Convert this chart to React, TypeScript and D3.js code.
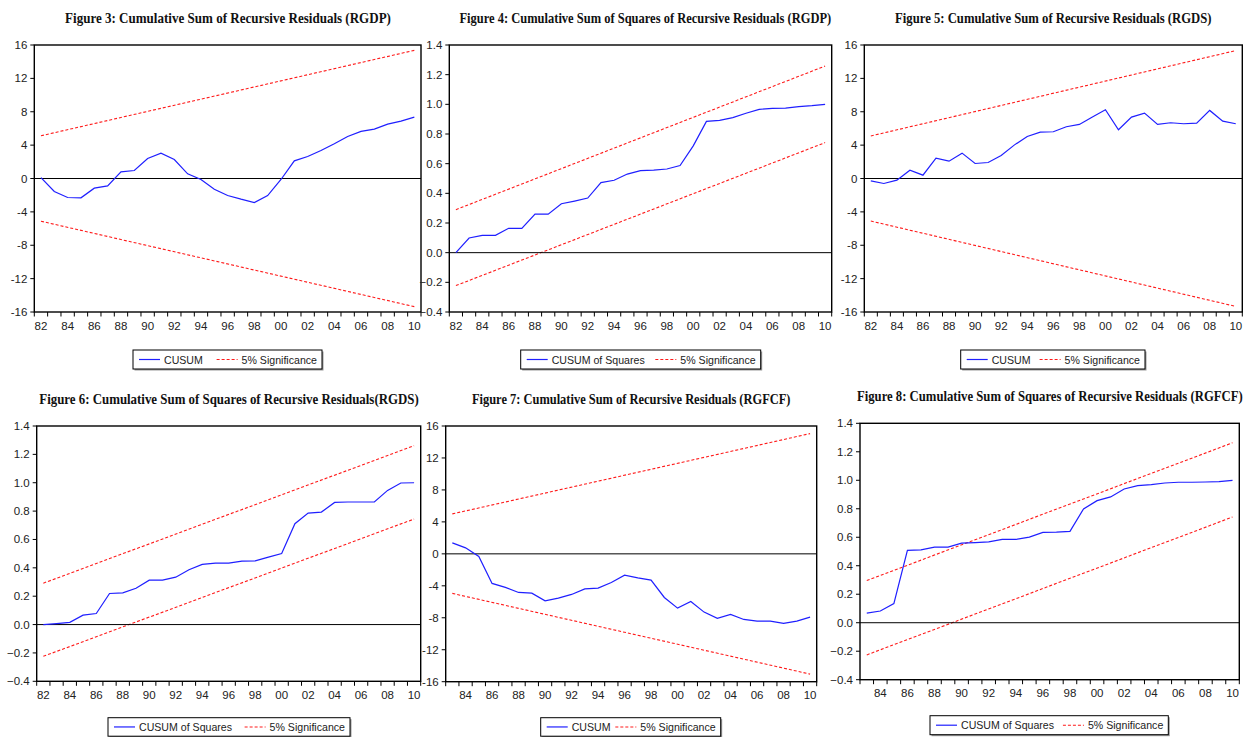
import React from 'react';
import * as d3 from 'd3';

// observation years (annual data)
const years82 = [1982, 1983, 1984, 1985, 1986, 1987, 1988, 1989, 1990, 1991, 1992, 1993, 1994, 1995,
  1996, 1997, 1998, 1999, 2000, 2001, 2002, 2003, 2004, 2005, 2006, 2007, 2008, 2009, 2010];
const years83 = years82.slice(1);

// CUSUM / CUSUM of squares series
const cusumRGDP = [0.1, -1.56, -2.28, -2.32, -1.16, -0.88, 0.8, 0.96, 2.4, 3.04, 2.28, 0.56, -0.12, -1.28,
  -2.04, -2.48, -2.88, -2.04, -0.12, 2.12, 2.64, 3.36, 4.16, 5.04, 5.64, 5.92, 6.52, 6.88, 7.36];
const cusumSqRGDP = [0.0, 0.099, 0.117, 0.117, 0.164, 0.164, 0.26, 0.26, 0.33, 0.348, 0.368, 0.472, 0.488, 0.53,
  0.553, 0.557, 0.564, 0.587, 0.72, 0.885, 0.892, 0.91, 0.94, 0.966, 0.973, 0.975, 0.984, 0.991, 1.0];
const cusumRGDS = [-0.28, -0.6, -0.2, 1.0, 0.4, 2.44, 2.08, 3.04, 1.8, 1.92, 2.76, 4.0, 5.04, 5.56,
  5.6, 6.2, 6.48, 7.36, 8.24, 5.84, 7.36, 7.84, 6.48, 6.68, 6.56, 6.64, 8.16, 6.88, 6.56];
const cusumSqRGDS = [0.0, 0.007, 0.016, 0.066, 0.078, 0.219, 0.224, 0.256, 0.313, 0.313, 0.334, 0.386, 0.424, 0.433,
  0.433, 0.447, 0.449, 0.475, 0.501, 0.711, 0.786, 0.793, 0.861, 0.864, 0.864, 0.864, 0.946, 0.998, 1.0];
const cusumRGFCF = [1.375, 0.75, -0.33, -3.7, -4.2, -4.83, -4.92, -5.88, -5.54, -5.08, -4.38, -4.29, -3.58,
  -2.67, -3.0, -3.29, -5.46, -6.79, -5.96, -7.29, -8.08, -7.58, -8.21, -8.42, -8.42, -8.71, -8.42, -7.92];
const cusumSqRGFCF = [0.068, 0.082, 0.134, 0.508, 0.512, 0.531, 0.531, 0.559, 0.563, 0.568, 0.585, 0.585, 0.601,
  0.634, 0.636, 0.641, 0.798, 0.857, 0.883, 0.939, 0.962, 0.969, 0.981, 0.986, 0.986, 0.988, 0.991, 1.0];

// 5% significance bounds: [value at first year, value at last year]
const upperRGDP = [5.12, 15.36];
const lowerRGDP = [-5.12, -15.36];
const upperSqRGDP = [0.29, 1.258];
const lowerSqRGDP = [-0.222, 0.742];
const upperRGDS = [5.1, 15.33];
const lowerRGDS = [-5.1, -15.33];
const upperSqRGDS = [0.292, 1.261];
const lowerSqRGDS = [-0.224, 0.744];
const upperRGFCF = [5.0, 15.05];
const lowerRGFCF = [-4.95, -15.05];
const upperSqRGFCF = [0.296, 1.263];
const lowerSqRGFCF = [-0.226, 0.742];

// axis ticks
const ticksCusum = [-16, -12, -8, -4, 0, 4, 8, 12, 16];
const ticksSq = [-0.4, -0.2, 0.0, 0.2, 0.4, 0.6, 0.8, 1.0, 1.2, 1.4];

const fmtCusum = (v: number) => String(v);
const fmtSq = d3.format('.1f');

const panels = [
  {
    title: 'Figure 3: Cumulative Sum of Recursive Residuals (RGDP)', tx: 228, ty: 22.7, tw: 326,
    frame: { l: 34.3, t: 45, r: 421, b: 312 }, years: years82, values: cusumRGDP,
    upper: upperRGDP, lower: lowerRGDP, ticks: ticksCusum, fmt: fmtCusum,
    legendLabel: 'CUSUM', legend: { x: 133, y: 350, w: 189, h: 19 },
  },
  {
    title: 'Figure 4: Cumulative Sum of Squares of Recursive Residuals (RGDP)', tx: 645.3, ty: 22.7, tw: 372,
    frame: { l: 449.3, t: 45, r: 831.7, b: 312 }, years: years82, values: cusumSqRGDP,
    upper: upperSqRGDP, lower: lowerSqRGDP, ticks: ticksSq, fmt: fmtSq,
    legendLabel: 'CUSUM of Squares', legend: { x: 520.7, y: 350, w: 240, h: 19 },
  },
  {
    title: 'Figure 5: Cumulative Sum of Recursive Residuals (RGDS)', tx: 1053.3, ty: 22.7, tw: 317,
    frame: { l: 864.3, t: 45, r: 1242.3, b: 312 }, years: years82, values: cusumRGDS,
    upper: upperRGDS, lower: lowerRGDS, ticks: ticksCusum, fmt: fmtCusum,
    legendLabel: 'CUSUM', legend: { x: 960.7, y: 350, w: 184.3, h: 19 },
  },
  {
    title: 'Figure 6: Cumulative Sum of Squares of Recursive Residuals(RGDS)', tx: 229, ty: 404, tw: 380,
    frame: { l: 36.7, t: 426, r: 420.7, b: 681.3 }, years: years82, values: cusumSqRGDS,
    upper: upperSqRGDS, lower: lowerSqRGDS, ticks: ticksSq, fmt: fmtSq,
    legendLabel: 'CUSUM of Squares', legend: { x: 108, y: 717.7, w: 242, h: 18.5 },
  },
  {
    title: 'Figure 7: Cumulative Sum of Recursive Residuals (RGFCF)', tx: 631.2, ty: 404, tw: 319,
    frame: { l: 445.7, t: 426, r: 816.7, b: 681.7 }, years: years83, values: cusumRGFCF,
    upper: upperRGFCF, lower: lowerRGFCF, ticks: ticksCusum, fmt: fmtCusum,
    legendLabel: 'CUSUM', legend: { x: 540.7, y: 717.7, w: 180, h: 18.5 },
  },
  {
    title: 'Figure 8: Cumulative Sum of Squares of Recursive Residuals (RGFCF)', tx: 1049.8, ty: 400.7, tw: 386,
    frame: { l: 860, t: 423.3, r: 1239.3, b: 679.7 }, years: years83, values: cusumSqRGFCF,
    upper: upperSqRGFCF, lower: lowerSqRGFCF, ticks: ticksSq, fmt: fmtSq,
    legendLabel: 'CUSUM of Squares', legend: { x: 930, y: 715.7, w: 238.3, h: 19 },
  },
];

const BLUE = '#1f1fff';
const RED = '#ff1a1a';
const SANS = '"Liberation Sans", Arial, sans-serif';
const SERIF = '"Liberation Serif", "Times New Roman", serif';
const TITLE_SIZE = 15;
const LEGEND_SIZE = 10.6;

// measure text with a canvas so titles/legends can be laid out like the original
const measureCtx = typeof document !== 'undefined' ? document.createElement('canvas').getContext('2d') : null;
function textWidth(s: string, font: string, fallback: number) {
  if (!measureCtx) return fallback;
  measureCtx.font = font;
  return measureCtx.measureText(s).width;
}

function Panel({ p }: { p: any }) {
  const { frame, years, values, upper, lower, ticks, fmt, legend } = p;
  const x = d3.scaleBand<number>().domain(years).range([frame.l, frame.r]).padding(0);
  const cx = (yr: number) => (x(yr) as number) + x.bandwidth() / 2;
  const y = d3.scaleLinear().domain([ticks[0], ticks[ticks.length - 1]]).range([frame.b, frame.t]);
  const line = d3.line<number>().x((_, i) => cx(years[i])).y((v) => y(v));
  const x0 = cx(years[0]);
  const x1 = cx(years[years.length - 1]);
  const boundaries = years.map((yr: number) => x(yr) as number).concat([frame.r]);
  const labelYears = years.filter((yr: number) => yr % 2 === 0);
  const ly = legend.y + legend.h / 2;

  // title is condensed horizontally to the original's width
  const natural = textWidth(p.title, `bold ${TITLE_SIZE}px ${SERIF}`, p.tw);
  const sx = p.tw / natural;

  // legend: first entry from the left edge, second entry ends near the right edge
  const t1x = legend.x + 31;
  const t2w = textWidth('5% Significance', `${LEGEND_SIZE}px ${SANS}`, 78);
  const t2x = legend.x + legend.w - 5 - t2w;
  const dashX = t2x - 25;

  return (
    <g>
      <text transform={`translate(${p.tx},${p.ty}) scale(${sx},1)`} textAnchor="middle"
        fontFamily={SERIF} fontWeight="bold" fontSize={TITLE_SIZE} fill="#111">
        {p.title}
      </text>

      {/* significance bounds */}
      <line x1={x0} x2={x1} y1={y(upper[0])} y2={y(upper[1])} stroke={RED} strokeWidth={1.1} strokeDasharray="3,2" />
      <line x1={x0} x2={x1} y1={y(lower[0])} y2={y(lower[1])} stroke={RED} strokeWidth={1.1} strokeDasharray="3,2" />

      {/* zero line */}
      <line x1={frame.l} x2={frame.r} y1={y(0)} y2={y(0)} stroke="#000" strokeWidth={1} />

      <path d={line(values) as string} fill="none" stroke={BLUE} strokeWidth={1.2} />

      <rect x={frame.l} y={frame.t} width={frame.r - frame.l} height={frame.b - frame.t}
        fill="none" stroke="#000" strokeWidth={1.4} />

      {/* y axis */}
      {ticks.map((t: number) => (
        <g key={'y' + t}>
          <line x1={frame.l - 4} x2={frame.l} y1={y(t)} y2={y(t)} stroke="#000" strokeWidth={1} />
          <text x={frame.l - 7} y={y(t) + 4} textAnchor="end" fontFamily={SANS} fontSize={11.5} fill="#222">
            {fmt(t)}
          </text>
        </g>
      ))}

      {/* x axis */}
      {boundaries.map((bx: number, i: number) => (
        <line key={'xt' + i} x1={bx} x2={bx} y1={frame.b} y2={frame.b + 4.5} stroke="#000" strokeWidth={1} />
      ))}
      {labelYears.map((yr: number) => (
        <text key={'xl' + yr} x={cx(yr)} y={frame.b + 17.5} textAnchor="middle" fontFamily={SANS}
          fontSize={11.5} fill="#222">
          {String(yr).slice(2)}
        </text>
      ))}

      {/* legend */}
      <rect x={legend.x + 1.5} y={legend.y + 1.5} width={legend.w} height={legend.h} fill="#999" />
      <rect x={legend.x} y={legend.y} width={legend.w} height={legend.h} fill="#fff" stroke="#000" strokeWidth={1} />
      <line x1={legend.x + 6} x2={legend.x + 27} y1={ly} y2={ly} stroke={BLUE} strokeWidth={1.2} />
      <text x={t1x} y={ly + 4} fontFamily={SANS} fontSize={LEGEND_SIZE} fill="#222">{p.legendLabel}</text>
      <line x1={dashX} x2={dashX + 21} y1={ly} y2={ly} stroke={RED} strokeWidth={1.1} strokeDasharray="3,2" />
      <text x={t2x} y={ly + 4} fontFamily={SANS} fontSize={LEGEND_SIZE} fill="#222">5% Significance</text>
    </g>
  );
}

export default function App() {
  return (
    <svg width={1248} height={737} style={{ position: 'absolute', left: 0, top: 0, background: '#fff' }}>
      <rect x={0} y={0} width={1248} height={737} fill="#fff" />
      {panels.map((p, i) => <Panel key={i} p={p} />)}
    </svg>
  );
}
